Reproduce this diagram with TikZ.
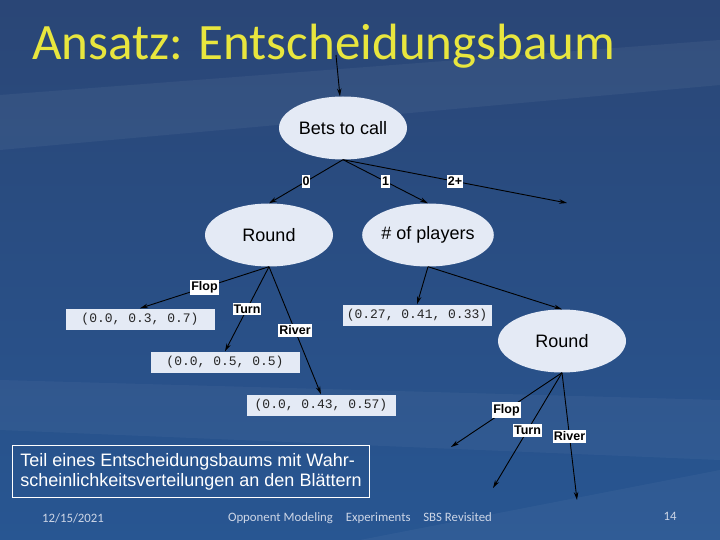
\documentclass[tikz,border=0pt]{standalone}
\usepackage{fontspec}
\setmainfont{Liberation Sans}
\newfontfamily\titlefont{Carlito}
\newfontfamily\codefont{Liberation Mono}
\usepackage{tikz}
\usetikzlibrary{shapes.geometric,arrows.meta}

\definecolor{slidetop}{RGB}{42,70,118}
\definecolor{slidemid}{RGB}{22,54,102}
\definecolor{slidebottom}{RGB}{40,86,146}
\definecolor{titleyellow}{RGB}{232,230,62}
\definecolor{nodefill}{RGB}{228,234,245}
\definecolor{footgray}{RGB}{205,214,230}

\begin{document}
\begin{tikzpicture}[x=1pt,y=-1pt]
	\tikzstyle{decision}=[ellipse, fill=nodefill, minimum width=128pt, minimum height=63pt, inner sep=0pt, font=\fontsize{18}{20}\selectfont]
	\tikzstyle{leaf}=[rectangle, fill=nodefill, minimum width=149pt, minimum height=21pt, inner sep=0pt, text=black!85, font=\codefont\fontsize{13}{14}\selectfont]
	\tikzstyle{branch}=[fill=white, inner xsep=1pt, inner ysep=2pt, text=black, font=\bfseries\fontsize{12.5}{13}\selectfont]
	\tikzstyle{footer}=[text=footgray, inner sep=0pt, font=\titlefont\fontsize{12.8}{14}\selectfont]

	% slide background
	\useasboundingbox (0,0) rectangle (720,540);
	\shade[top color=slidetop, middle color=slidemid, bottom color=slidebottom] (0,0) rectangle (720,540);
	\fill[white, opacity=0.05] (0,95) -- (720,40) -- (720,85) -- (0,150) -- cycle;
	\fill[white, opacity=0.04] (0,380) -- (720,400) -- (720,460) -- (0,430) -- cycle;
	\fill[white, opacity=0.04] (360,540) -- (720,470) -- (720,540) -- cycle;

	\node[anchor=base west, inner sep=0pt, text=titleyellow, font=\titlefont\fontsize{51}{60}\selectfont] (title) at (32,60) {Ansatz: Entscheidungsbaum};
	\coordinate (entry) at (336,55);

	% tree
	\node[decision] (bets) at (343,128) {Bets to call};
	\node[decision] (round) at (269,235) {Round};
	\node[decision] (players) at (428,235) {\# of players};
	\node[decision] (round2) at (562,341) {Round};

	\node[leaf] (dist1) at (140,319) {(0.0, 0.3, 0.7)};
	\node[leaf] (dist2) at (225,362) {(0.0, 0.5, 0.5)};
	\node[leaf] (dist3) at (321,405) {(0.0, 0.43, 0.57)};
	\node[leaf] (dist4) at (417,315) {(0.27, 0.41, 0.33)};

	\coordinate (more) at (567,203);
	\coordinate (flop) at (451,447);
	\coordinate (turn) at (493,488);
	\coordinate (river) at (577,500);

	\path[-{Stealth[length=8pt,width=4.5pt]}, line width=0.9pt, black]
		(entry) edge (bets)
		(bets.south) edge node[branch] {0} (round.north)
		(bets.south) edge node[branch] {1} (players.north)
		(bets.south) edge node[branch] {2+} (more)
		(round.south) edge node[branch] {Flop} (dist1.north)
		(round.south) edge node[branch] {Turn} (dist2.north)
		(round.south) edge node[branch] {River} (dist3.north)
		(players.south) edge (dist4.north)
		(players.south) edge (round2.north)
		(round2.south) edge node[branch] {Flop} (flop)
		(round2.south) edge node[branch] {Turn} (turn)
		(round2.south) edge node[branch] {River} (river);

	\node[draw=white, line width=1pt, text=white, anchor=north west, minimum width=357pt, minimum height=52pt, align=left, font=\fontsize{18}{20}\selectfont] (caption) at (12,445) {Teil eines Entscheidungsbaums mit Wahr-\\scheinlichkeitsverteilungen an den Blättern};

	\node[footer] (date) at (73,518) {12/15/2021};
	\node[footer] (topic) at (360,518) {Opponent Modeling\quad Experiments\quad SBS Revisited};
	\node[footer] (page) at (670,516) {14};
\end{tikzpicture}
\end{document}
